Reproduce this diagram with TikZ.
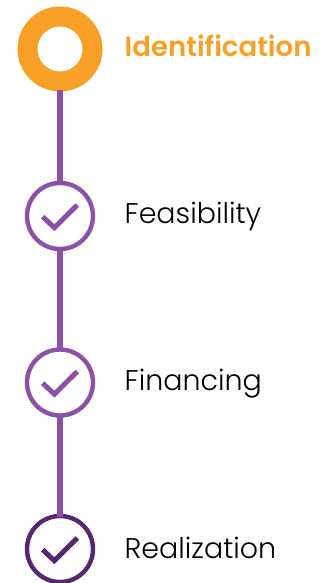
\documentclass[tikz,border=0pt]{standalone}
\usepackage{fontspec}
\setmainfont{Poppins Light}
\newfontfamily\boldf{Poppins SemiBold}
\definecolor{orangeC}{HTML}{F9A026}
\definecolor{purpleC}{HTML}{8C50A8}
\definecolor{darkC}{HTML}{57286F}
\tikzset{
  stepcircle/.style={circle,draw=#1,line width=4.4pt,fill=white,minimum size=66pt,inner sep=0pt,outer sep=0pt},
  ring/.style={circle,draw=orangeC,line width=20pt,minimum size=65pt,inner sep=0pt,outer sep=10pt,fill=white},
  link/.style={draw=purpleC,line width=6.2pt,shorten >=-1pt,shorten <=-1pt,xshift=0.3pt},
  tick/.style={draw=#1,line width=5pt,miter limit=10},
  label/.style={anchor=base west,inner sep=0pt,font=\fontsize{28.5}{28.5}\selectfont},
}
\begin{document}
\begin{tikzpicture}[x=1pt,y=-1pt]
\useasboundingbox (0,0) rectangle (326,583);
\node[ring] (a) at (60,49) {};
\node[stepcircle=purpleC] (b) at (60,216) {};
\node[stepcircle=purpleC] (c) at (60,382.5) {};
\node[stepcircle=darkC] (d) at (60,549) {};
\draw[link] (a.south) -- (b.north);
\draw[link] (b.south) -- (c.north);
\draw[link] (c.south) -- (d.north);
\draw[tick=purpleC] (42.7,216.7) -- (54.3,227.7) -- (77.3,205);
\draw[tick=purpleC] (42.7,383.2) -- (54.3,394.2) -- (77.3,371.5);
\draw[tick=darkC] (42.7,549.7) -- (54.3,560.7) -- (77.3,538);
\node[label,text=orangeC,font=\fontsize{27.6}{27.6}\selectfont\boldf] (ta) at (124.5,56.7) {Identification};
\node[label] (tb) at (124.5,223) {Feasibility};
\node[label] (tc) at (124.5,390.7) {Financing};
\node[label] (td) at (124.5,558) {Realization};
\end{tikzpicture}
\end{document}
